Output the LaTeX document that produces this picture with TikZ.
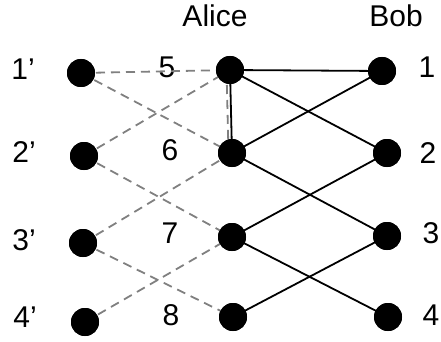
\documentclass[tikz,border=0pt]{standalone}
\usepackage{fontspec}
\setmainfont{Liberation Sans}
\begin{document}
\begin{tikzpicture}[x=1pt,y=-1pt,
  dot/.style={circle,fill=black,inner sep=0pt,minimum size=28pt},
  lbl/.style={font=\fontsize{30}{32}\selectfont,inner sep=0pt,anchor=base},
  solidedge/.style={line width=1.8pt,black},
  dashedge/.style={line width=1.8pt,gray,dash pattern=on 9pt off 6pt}]
\useasboundingbox (0,0) rectangle (441,342);
% left nodes
\node[dot] (a1) at (81,73) {};
\node[dot] (a2) at (84,156) {};
\node[dot] (a3) at (83,243) {};
\node[dot] (a4) at (85,322) {};
% Alice nodes
\node[dot] (m5) at (230,70) {};
\node[dot] (m6) at (232,153) {};
\node[dot] (m7) at (232,237) {};
\node[dot] (m8) at (233,317) {};
% Bob nodes
\node[dot] (b1) at (382,71) {};
\node[dot] (b2) at (387,153) {};
\node[dot] (b3) at (387,236) {};
\node[dot] (b4) at (388,317) {};
% labels
\node[lbl] (l1p) at (23,80) {1’};
\node[lbl] (l2p) at (24,162) {2’};
\node[lbl] (l3p) at (24,250) {3’};
\node[lbl] (l4p) at (25,327) {4’};
\node[lbl] (l5) at (167,78) {5};
\node[lbl] (l6) at (170,160) {6};
\node[lbl] (l7) at (170,243) {7};
\node[lbl] (l8) at (171,325) {8};
\node[lbl] (alice) at (215,27) {Alice};
\node[lbl] (bob) at (396,27) {Bob};
\node[lbl] (r1) at (427,78) {1};
\node[lbl] (r2) at (428,163) {2};
\node[lbl] (r3) at (431,243) {3};
\node[lbl] (r4) at (431,325) {4};
% dashed edges
\draw[dashedge] (a1.center) -- (m5.center);
\draw[dashedge] (a1.center) -- (m6.center);
\draw[dashedge] (a2.center) -- (m5.center);
\draw[dashedge] (a2.center) -- (m7.center);
\draw[dashedge] (a3.center) -- (m6.center);
\draw[dashedge] (a3.center) -- (m8.center);
\draw[dashedge] (a4.center) -- (m7.center);
\draw[dashedge] ([xshift=-3.5pt]m5.center) -- ([xshift=-3.5pt]m6.center);
% solid edges
\draw[solidedge] (m5.center) -- (b1.center);
\draw[solidedge] (m5.center) -- (b2.center);
\draw[solidedge] (m5.center) -- (m6.center);
\draw[solidedge] (m6.center) -- (b1.center);
\draw[solidedge] (m6.center) -- (b3.center);
\draw[solidedge] (m7.center) -- (b2.center);
\draw[solidedge] (m7.center) -- (b4.center);
\draw[solidedge] (m8.center) -- (b3.center);
% redraw dots on top
\foreach \n in {a1,a2,a3,a4,m5,m6,m7,m8,b1,b2,b3,b4}
  \fill (\n) circle (14pt);
\end{tikzpicture}
\end{document}
